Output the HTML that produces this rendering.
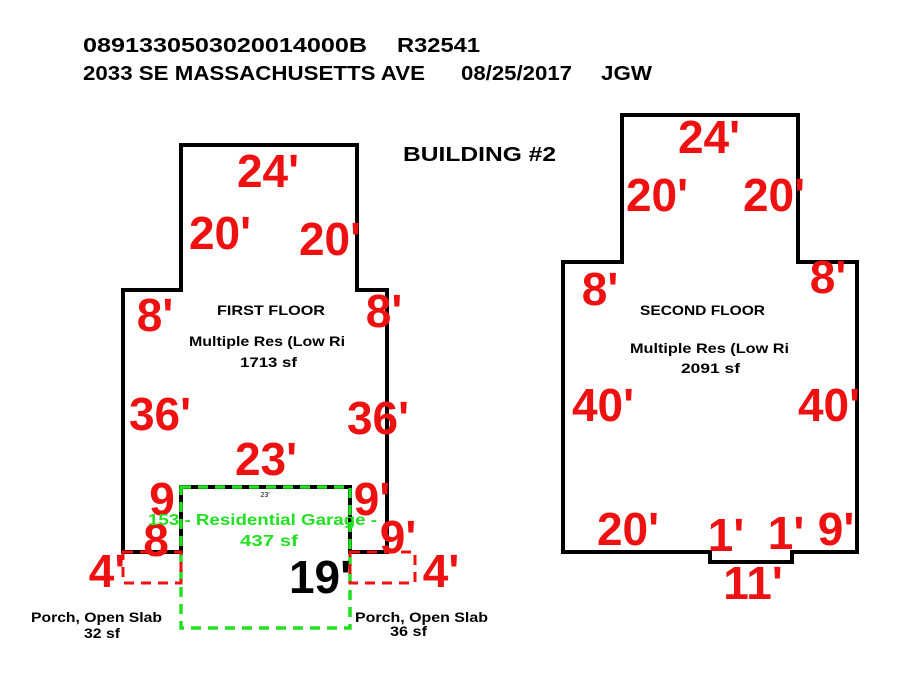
<!DOCTYPE html>
<html><head><style>body{margin:0;background:#fff}svg{display:block}</style></head><body>
<svg width="900" height="675" viewBox="0 0 900 675" xmlns="http://www.w3.org/2000/svg" font-family="Liberation Sans, Arial, sans-serif" font-weight="bold">
<rect width="900" height="675" fill="#fff"/>
<g font-size="20" fill="#000" lengthAdjust="spacingAndGlyphs">
<text x="83" y="52" textLength="284" lengthAdjust="spacingAndGlyphs">0891330503020014000B</text>
<text x="397" y="52" textLength="83" lengthAdjust="spacingAndGlyphs">R32541</text>
<text x="83" y="80" textLength="342" lengthAdjust="spacingAndGlyphs">2033 SE MASSACHUSETTS AVE</text>
<text x="461" y="80" textLength="111" lengthAdjust="spacingAndGlyphs">08/25/2017</text>
<text x="601" y="80" textLength="51" lengthAdjust="spacingAndGlyphs">JGW</text>
<text x="403" y="161" textLength="153" lengthAdjust="spacingAndGlyphs">BUILDING #2</text>
</g>
<path d="M181,552 L123,552 L123,290 L181,290 L181,145 L357,145 L357,290 L387,290 L387,552 L350,552 L350,487 L181,487 Z" fill="none" stroke="#000" stroke-width="4"/>
<rect x="181" y="487" width="169" height="141" fill="none" stroke="#22e022" stroke-width="3.5" stroke-dasharray="10,7"/>
<rect x="123" y="552" width="58" height="31" fill="none" stroke="#ee1111" stroke-width="3" stroke-dasharray="10,7"/>
<rect x="350" y="552" width="65" height="31" fill="none" stroke="#ee1111" stroke-width="3" stroke-dasharray="10,7"/>
<path d="M563,552 L563,262 L622,262 L622,115 L798,115 L798,262 L857,262 L857,552 L792,552 L792,562 L710,562 L710,552 Z" fill="none" stroke="#000" stroke-width="4"/>
<g font-size="46" fill="#ee1111" text-anchor="middle">
<text x="268" y="187">24'</text>
<text x="220" y="249">20'</text>
<text x="330" y="255">20'</text>
<text x="155" y="331">8'</text>
<text x="384" y="327">8'</text>
<text x="160" y="430">36'</text>
<text x="378" y="434">36'</text>
<text x="266" y="475">23'</text>
<text x="162" y="515">9</text>
<text x="372" y="515">9'</text>
<text x="156" y="556">8</text>
<text x="398" y="553">9'</text>
<text x="107" y="587">4'</text>
<text x="441" y="587">4'</text>
<text x="709" y="153">24'</text>
<text x="657" y="211">20'</text>
<text x="774" y="211">20'</text>
<text x="600" y="305">8'</text>
<text x="828" y="293">8'</text>
<text x="603" y="421">40'</text>
<text x="829" y="421">40'</text>
<text x="628" y="545">20'</text>
<text x="726" y="551">1'</text>
<text x="786" y="549">1'</text>
<text x="836" y="545">9'</text>
<text x="753" y="599">11'</text>
</g>
<text x="320" y="593" font-size="46" fill="#000" text-anchor="middle">19'</text>
<g font-size="16" fill="#22e022">
<text x="148" y="525" textLength="229" lengthAdjust="spacingAndGlyphs">153 - Residential Garage -</text>
<text x="240" y="546" textLength="58" lengthAdjust="spacingAndGlyphs">437 sf</text>
</g>
<text x="265" y="497" font-size="7" font-weight="normal" text-anchor="middle">23'</text>
<g font-size="14" fill="#000">
<text x="217" y="315" textLength="108" lengthAdjust="spacingAndGlyphs">FIRST FLOOR</text>
<text x="189" y="346" textLength="156" lengthAdjust="spacingAndGlyphs">Multiple Res (Low Ri</text>
<text x="240" y="367" textLength="57" lengthAdjust="spacingAndGlyphs">1713 sf</text>
<text x="640" y="315" textLength="125" lengthAdjust="spacingAndGlyphs">SECOND FLOOR</text>
<text x="630" y="353" textLength="159" lengthAdjust="spacingAndGlyphs">Multiple Res (Low Ri</text>
<text x="681" y="373" textLength="59" lengthAdjust="spacingAndGlyphs">2091 sf</text>
<text x="31" y="622" textLength="131" lengthAdjust="spacingAndGlyphs">Porch, Open Slab</text>
<text x="84" y="638" textLength="36" lengthAdjust="spacingAndGlyphs">32 sf</text>
<text x="355" y="622" textLength="133" lengthAdjust="spacingAndGlyphs">Porch, Open Slab</text>
<text x="390" y="636" textLength="37" lengthAdjust="spacingAndGlyphs">36 sf</text>
</g>
</svg>
</body></html>
